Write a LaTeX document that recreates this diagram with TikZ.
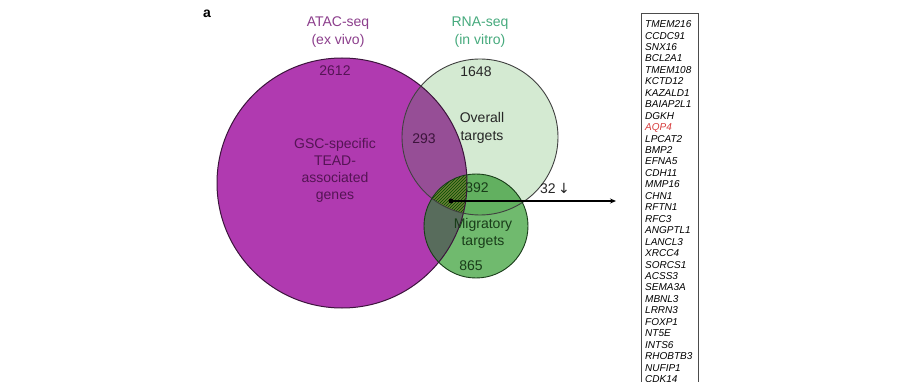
\documentclass[tikz,border=0pt]{standalone}
\usepackage{fontspec}
\setmainfont{Liberation Sans}
\newfontfamily\arrowfont{DejaVu Sans}
\usetikzlibrary{patterns,arrows.meta}
\definecolor{atacfill}{RGB}{176,58,176}
\definecolor{atacline}{RGB}{60,20,60}
\definecolor{atactext}{RGB}{140,62,140}
\definecolor{atacdark}{RGB}{85,20,85}
\definecolor{overallfill}{RGB}{212,234,210}
\definecolor{overlapfill}{RGB}{150,78,150}
\definecolor{migfill}{RGB}{112,186,110}
\definecolor{migoverall}{RGB}{98,176,96}
\definecolor{migatac}{RGB}{88,108,92}
\definecolor{triplefill}{RGB}{104,126,52}
\definecolor{rnatext}{RGB}{70,170,125}
\definecolor{migdark}{RGB}{25,60,25}
\definecolor{aqpred}{RGB}{215,60,60}
\begin{document}
\begin{tikzpicture}[x=1pt,y=-1pt,
    every node/.style={font=\fontsize{14}{17}\selectfont, align=center},
    gene/.style={anchor=base west, inner sep=0pt, font=\fontsize{10}{12}\selectfont\itshape}]
    \useasboundingbox (0,0) rectangle (900,382);
    \clip (0,0) rectangle (900,382);
    \fill[white] (0,0) rectangle (900,382);

    \coordinate (atac) at (342,183);
    \coordinate (overall) at (480,137);
    \coordinate (mig) at (476,226);

    \fill[atacfill] (atac) circle (125pt);
    \fill[overallfill] (overall) circle (78pt);
    \begin{scope}
        \clip (atac) circle (125pt);
        \fill[overlapfill] (overall) circle (78pt);
    \end{scope}
    \fill[migfill] (mig) circle (52pt);
    \begin{scope}
        \clip (mig) circle (52pt);
        \fill[migoverall] (overall) circle (78pt);
        \clip (atac) circle (125pt);
        \fill[migatac] (atac) circle (125pt);
        \clip (overall) circle (78pt);
        \fill[triplefill] (overall) circle (78pt);
        \fill[pattern=north east lines, pattern color=black!70!green] (overall) circle (78pt);
    \end{scope}
    \draw[atacline, line width=1pt] (atac) circle (125pt);
    \draw[black!75, line width=0.9pt] (overall) circle (78pt);
    \draw[migdark, line width=0.9pt] (mig) circle (52pt);

    \node (panel) at (207,14) {\bfseries a};
    \node[atactext] (ataclabel) at (338,32) {ATAC-seq\\[1pt](ex vivo)};
    \node[rnatext] (rnalabel) at (480,32) {RNA-seq\\[1pt](in vitro)};
    \node[atacdark] (n2612) at (335,71) {2612};
    \node[black!85] (n1648) at (476,72) {1648};
    \node[black!85] (overalllabel) at (482,128) {Overall\\[1pt]targets};
    \node[atacline] (n293) at (424,139) {293};
    \node[atacdark] (gsclabel) at (335,170) {GSC-specific\\TEAD-\\associated\\genes};
    \node[migdark] (n392) at (477,188) {392};
    \node[black!85] (n32) at (555,188) {32\,{\arrowfont ↓}};
    \node[migdark] (miglabel) at (483,233) {Migratory\\targets};
    \node[migdark] (n865) at (471,266) {865};

    \node[circle, fill, inner sep=0pt, minimum size=5pt] (dot) at (451,201) {};
    \coordinate (tip) at (616,201);
    \draw[line width=1.4pt, -{Stealth[length=6pt,width=5pt]}] (dot.center) -- (tip);

    \draw[black!70, line width=0.8pt] (641,13) rectangle (698,400);
    \foreach \g [count=\i] in {TMEM216,CCDC91,SNX16,BCL2A1,TMEM108,KCTD12,KAZALD1,BAIAP2L1,DGKH,\textcolor{aqpred}{AQP4},LPCAT2,BMP2,EFNA5,CDH11,MMP16,CHN1,RFTN1,RFC3,ANGPTL1,LANCL3,XRCC4,SORCS1,ACSS3,SEMA3A,MBNL3,LRRN3,FOXP1,NT5E,INTS6,RHOBTB3,NUFIP1,CDK14} {
        \node[gene] (gene\i) at (645,27.6+11.45*\i-11.45) {\g};
    }
\end{tikzpicture}
\end{document}
